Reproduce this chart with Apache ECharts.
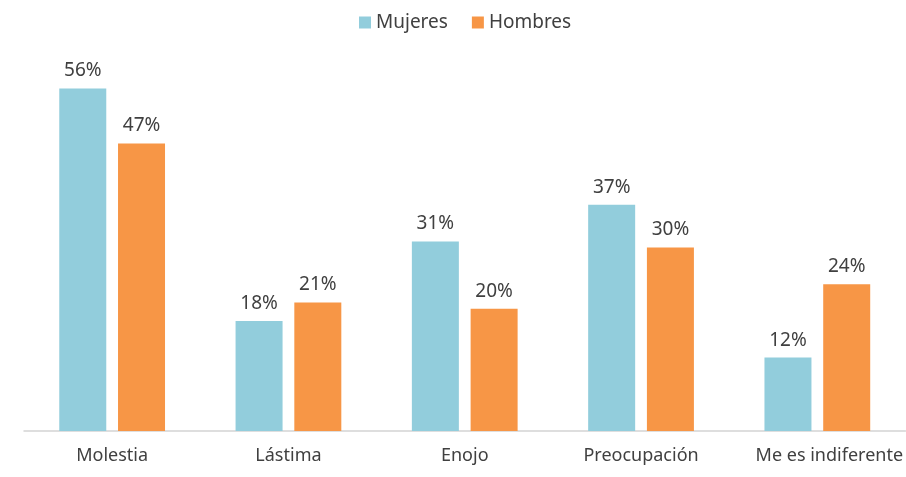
<!DOCTYPE html>
<html>
<head>
<meta charset="utf-8">
<script src="https://cdn.jsdelivr.net/npm/echarts@6/dist/echarts.min.js"></script>
<style>
  html, body { margin: 0; padding: 0; background: #fff; }
  #main { width: 906px; height: 477px; }
</style>
</head>
<body>
<div id="main"></div>
<script>
var categories = ['Molestia', 'Lástima', 'Enojo', 'Preocupación', 'Me es indiferente'];
var mujeres = [56, 18, 31, 37, 12];
var hombres = [47, 21, 20, 30, 24];

var font = 'Noto Sans';
var textColor = '#404040';

var myChart = echarts.init(document.getElementById('main'));

var labelStyle = {
    show: true,
    position: 'top',
    distance: 8,
    fontFamily: font,
    fontSize: 19,
    color: textColor,
    formatter: '{c}%'
};

var option = {
    animation: false,
    legend: {
        data: ['Mujeres', 'Hombres'],
        top: 8,
        left: 354,
        itemWidth: 12,
        itemHeight: 12,
        itemGap: 24,
        icon: 'rect',
        textStyle: { fontFamily: font, fontSize: 19, color: textColor }
    },
    grid: { left: 24, right: 0, top: 64, bottom: 46 },
    xAxis: {
        type: 'category',
        data: categories,
        axisLine: { lineStyle: { color: '#d4d4d4', width: 1.5 } },
        axisTick: { show: false },
        axisLabel: {
            interval: 0,
            fontFamily: font,
            fontSize: 18,
            color: textColor,
            margin: 16,
            // last label sits pushed to the right edge, like in the original
            formatter: function (v, i) {
                return i === categories.length - 1 ? '{last|' + v + '}' : v;
            },
            rich: {
                last: { fontFamily: font, fontSize: 18, color: textColor, padding: [0, 0, 0, 24] }
            }
        }
    },
    yAxis: {
        type: 'value',
        min: 0,
        max: 60,
        show: false,
        splitLine: { show: false }
    },
    series: [
        {
            name: 'Mujeres',
            type: 'bar',
            data: mujeres,
            barWidth: 47,
            barGap: '25%',
            itemStyle: { color: '#92CDDC' },
            label: labelStyle
        },
        {
            name: 'Hombres',
            type: 'bar',
            data: hombres,
            barWidth: 47,
            itemStyle: { color: '#F79646' },
            label: labelStyle
        }
    ]
};
myChart.setOption(option);
</script>
</body>
</html>
